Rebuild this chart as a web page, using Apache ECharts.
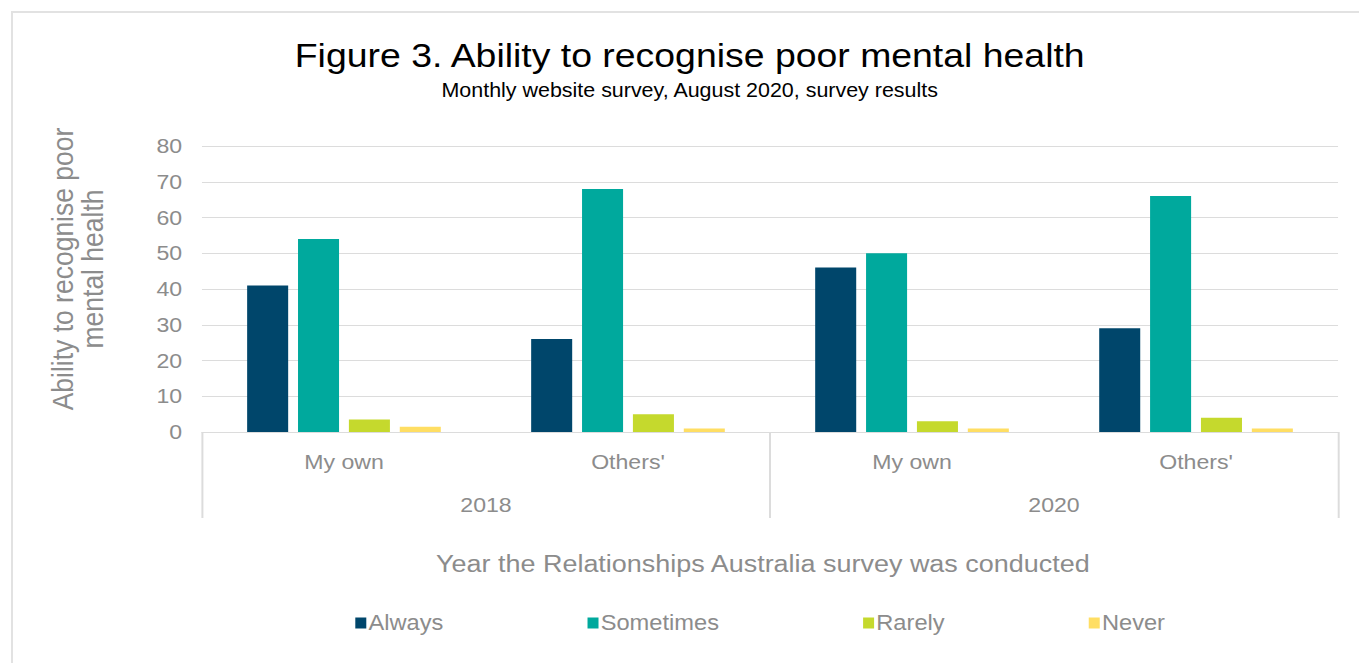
<!DOCTYPE html>
<html>
<head>
<meta charset="utf-8">
<script src="https://cdn.jsdelivr.net/npm/echarts@6/dist/echarts.min.js"></script>
<style>
  html, body { margin: 0; padding: 0; background: #fff; overflow: hidden; }
  #frame { position: absolute; left: 11px; top: 11px; width: 2000px; height: 2000px;
           border-left: 2px solid #e2e2e2; border-top: 2px solid #e2e2e2; }
  /* the chart is drawn slightly narrow and widened with a horizontal scale */
  #chart { position: absolute; left: 0; top: 0; width: 1254px; height: 663px;
           transform: scaleX(1.1); transform-origin: 0 0; }
</style>
</head>
<body>
<div id="frame"></div>
<div id="chart"></div>
<script>
// Survey categories: inner level (whose mental health) and outer level (year)
const subjects = ['My own', "Others'", 'My own', "Others'"];
const years = ['2018', '2020'];
const yTicks = { min: 0, max: 80, interval: 10 };

// Percent of respondents per response, in order 2018 My own, 2018 Others', 2020 My own, 2020 Others'
const always = [41, 26, 46, 29];
const sometimes = [54, 68, 50, 66];
const rarely = [3.5, 5, 3, 4];
const never = [1.5, 1, 1, 1];

const seriesNames = ['Always', 'Sometimes', 'Rarely', 'Never'];
const seriesColors = ['#00466b', '#00a99d', '#c5d92d', '#ffde63'];
const seriesData = [always, sometimes, rarely, never];

const grey = '#8c8c8c';
const lineGrey = '#dcdcdc';
const font = 'Liberation Sans, Arial, sans-serif';

const chart = echarts.init(document.getElementById('chart'), null, { renderer: 'svg' });

chart.setOption({
  animation: false,
  textStyle: { fontFamily: font },
  title: {
    left: 'center',
    top: 34,
    text: 'Figure 3. Ability to recognise poor mental health',
    subtext: 'Monthly website survey, August 2020, survey results',
    itemGap: 7,
    textStyle: { fontFamily: font, fontSize: 34, fontWeight: 'normal', color: '#000' },
    subtextStyle: { fontFamily: font, fontSize: 19.5, color: '#000' }
  },
  legend: {
    left: 318,
    top: 607,
    itemWidth: 10,
    itemHeight: 11,
    itemGap: 131,
    icon: 'rect',
    textStyle: { fontFamily: font, fontSize: 21.5, color: grey, padding: [0, 0, 0, -3] },
    data: seriesNames
  },
  grid: { left: 183.6, right: 37.6, top: 146, bottom: 231, containLabel: false },
  xAxis: [
    {
      type: 'category',
      data: subjects,
      axisLine: { show: true, lineStyle: { color: lineGrey, width: 1 } },
      axisTick: { show: false },
      axisLabel: { fontFamily: font, fontSize: 21, color: grey, margin: 19 },
      splitLine: { show: false }
    },
    {
      type: 'category',
      data: years,
      position: 'bottom',
      axisLine: { show: false },
      axisTick: { show: true, inside: false, length: 86, alignWithLabel: false,
                  lineStyle: { color: lineGrey, width: 1.8 } },
      axisLabel: { fontFamily: font, fontSize: 21, color: grey, margin: 62 },
      name: 'Year the Relationships Australia survey was conducted',
      nameLocation: 'middle',
      nameGap: 119,
      nameTextStyle: { fontFamily: font, fontSize: 24.5, color: grey, padding: [0, 13, 0, 0] }
    }
  ],
  yAxis: {
    type: 'value',
    min: yTicks.min,
    max: yTicks.max,
    interval: yTicks.interval,
    axisLine: { show: false },
    axisTick: { show: false },
    axisLabel: { fontFamily: font, fontSize: 21, color: grey, margin: 18 },
    splitLine: { lineStyle: { color: lineGrey, width: 1 } }
  },
  graphic: [
    {
      type: 'text',
      x: 71,
      y: 269,
      rotation: Math.PI / 2,
      style: {
        text: 'Ability to recognise poor\nmental health',
        font: '26.5px ' + font,
        fill: grey,
        align: 'center',
        verticalAlign: 'middle',
        lineHeight: 28
      }
    }
  ],
  series: seriesNames.map((name, i) => ({
    name: name,
    type: 'bar',
    xAxisIndex: 0,
    data: seriesData[i],
    barWidth: 37.3,
    barGap: '24%',
    itemStyle: { color: seriesColors[i] }
  }))
});
</script>
</body>
</html>
